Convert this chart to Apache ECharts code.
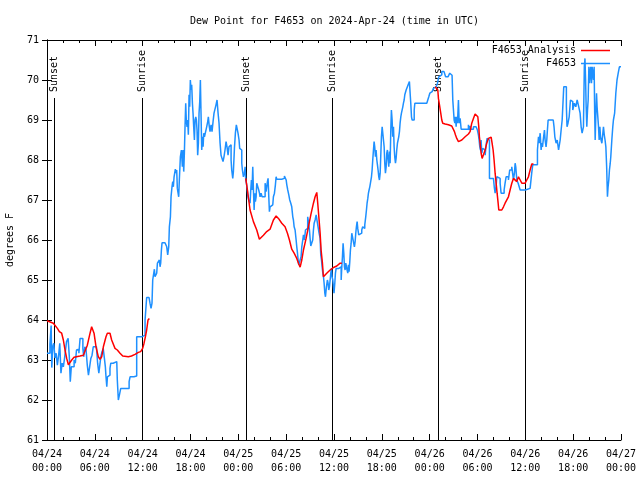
<!DOCTYPE html>
<html>
<head>
<meta charset="utf-8">
<script src="https://cdn.jsdelivr.net/npm/echarts@6/dist/echarts.min.js"></script>
<style>html,body{margin:0;padding:0;background:#fff}#c{width:640px;height:480px}</style>
</head>
<body>
<div id="c"></div>
<script>
// ---- data (hours since 2024-04-24 00:00 UTC, dew point in degrees F) ----
const dayLabels = ['04/24', '04/25', '04/26', '04/27'];
const sunHours = [0.88, 11.88, 24.97, 35.8, 49.06, 59.9];
const sunLabels = ['Sunset', 'Sunrise', 'Sunset', 'Sunrise', 'Sunset', 'Sunrise'];

const blueData = [
[0.0,63.17],[0.37,63.39],[0.52,63.86],[0.6,62.81],[0.72,63.33],[0.85,63.42],[1.0,63.05],[1.15,63.17],[1.3,62.87],[1.45,63.1],
[1.6,63.42],[1.75,62.67],[1.9,62.92],[2.05,62.83],[2.2,63.04],[2.45,63.46],[2.65,63.54],[2.8,63.08],[2.92,62.46],[3.05,62.83],
[3.25,62.83],[3.4,63.0],[3.55,62.92],[3.7,63.25],[3.85,63.27],[4.0,63.17],[4.15,63.54],[4.4,63.54],[4.5,63.29],[4.6,63.08],
[4.75,63.33],[4.9,63.25],[5.05,62.88],[5.2,62.62],[5.35,62.83],[5.5,63.04],[5.65,63.12],[5.8,63.33],[6.2,63.33],[6.35,62.92],
[6.5,62.67],[6.6,62.83],[6.75,63.08],[6.9,63.2],[7.05,63.29],[7.2,63.04],[7.32,62.83],[7.4,62.58],[7.5,62.33],[7.58,62.58],
[7.75,62.62],[7.9,62.79],[8.0,62.92],[8.15,62.92],[8.3,62.96],[8.75,62.96],[8.82,62.5],[8.95,62.0],[9.08,62.12],[9.25,62.29],
[9.6,62.29],[10.0,62.27],[10.2,62.29],[10.3,62.46],[10.42,62.58],[10.9,62.6],[11.25,63.58],[11.9,63.6],[12.1,63.62],[12.3,64.0],
[12.5,64.56],[12.8,64.56],[12.92,64.42],[13.05,64.29],[13.17,64.42],[13.26,65.0],[13.4,65.0],[13.47,65.27],[13.55,65.08],[13.67,65.04],
[13.76,65.17],[13.85,65.42],[14.1,65.5],[14.18,65.33],[14.26,65.42],[14.35,65.75],[14.43,65.93],[14.8,65.93],[15.02,65.83],[15.14,65.63],
[15.27,65.83],[15.35,66.33],[15.48,66.58],[15.56,67.08],[15.68,67.33],[15.77,67.46],[15.85,67.33],[15.94,67.58],[16.1,67.77],[16.2,67.67],
[16.27,67.75],[16.35,67.29],[16.52,67.08],[16.6,67.5],[16.73,68.08],[16.86,68.25],[16.98,67.83],[17.07,68.25],[17.15,67.71],[17.23,68.17],
[17.32,68.88],[17.4,69.42],[17.48,68.96],[17.57,68.83],[17.65,69.0],[17.73,68.63],[17.82,69.63],[17.9,69.33],[17.98,70.0],[18.07,69.75],
[18.15,69.88],[18.24,69.42],[18.32,69.17],[18.4,68.83],[18.49,68.5],[18.57,69.0],[18.66,69.08],[18.74,69.0],[18.82,68.75],[18.9,68.12],
[18.99,68.42],[19.07,69.17],[19.16,69.46],[19.24,70.0],[19.32,69.17],[19.41,68.25],[19.49,68.58],[19.58,68.33],[19.66,68.67],[19.75,68.58],
[19.95,68.63],[20.03,68.83],[20.16,68.96],[20.24,69.08],[20.33,68.88],[20.45,68.71],[20.58,68.88],[20.7,68.71],[20.83,68.96],[20.95,69.17],
[21.08,69.21],[21.2,69.38],[21.33,69.5],[21.46,69.17],[21.58,68.92],[21.71,68.42],[21.83,68.12],[21.96,68.08],[22.08,67.96],[22.2,68.08],
[22.33,68.25],[22.46,68.46],[22.58,68.33],[22.71,68.12],[22.83,68.33],[22.96,68.38],[23.09,68.0],[23.17,67.75],[23.3,67.54],[23.38,67.71],
[23.51,68.29],[23.63,68.67],[23.75,68.88],[23.84,68.79],[23.96,68.67],[24.09,68.5],[24.17,68.29],[24.3,68.25],[24.43,67.92],[24.51,67.75],
[24.64,67.58],[24.76,67.67],[24.85,67.83],[24.93,67.5],[25.01,67.42],[25.1,67.29],[25.2,67.08],[25.3,67.0],[25.47,66.92],[25.56,67.25],
[25.64,67.5],[25.72,67.25],[25.81,67.83],[25.89,67.29],[25.98,66.75],[26.06,67.17],[26.14,66.96],[26.23,67.08],[26.31,67.42],[26.43,67.42],
[26.56,67.25],[26.65,67.17],[26.73,67.08],[26.85,67.17],[26.98,67.08],[27.23,67.08],[27.36,67.42],[27.48,67.21],[27.65,67.46],[27.73,67.54],
[27.82,67.08],[27.9,66.71],[27.98,66.83],[28.07,66.79],[28.2,66.88],[28.32,66.83],[28.4,67.08],[28.53,67.17],[28.65,67.38],[28.74,67.58],
[28.82,67.52],[29.45,67.52],[29.66,67.54],[29.78,67.6],[29.91,67.6],[30.0,67.5],[30.08,67.38],[30.2,67.25],[30.33,67.13],[30.45,67.0],
[30.58,66.92],[30.7,66.83],[30.83,66.58],[30.91,66.5],[31.0,66.33],[31.12,66.25],[31.25,66.0],[31.33,65.83],[31.42,65.67],[31.5,65.5],
[31.58,65.38],[31.66,65.33],[31.75,65.5],[31.87,65.58],[31.96,65.83],[32.08,66.0],[32.17,66.13],[32.3,66.0],[32.42,66.25],[32.58,66.29],
[32.7,66.58],[32.79,66.46],[32.92,66.25],[33.0,66.04],[33.09,65.85],[33.25,65.85],[33.33,66.0],[33.42,66.25],[33.51,66.42],[33.63,66.5],
[33.76,66.63],[33.88,66.6],[34.0,66.33],[34.13,66.17],[34.26,66.04],[34.34,65.63],[34.43,65.5],[34.51,65.33],[34.6,65.17],[34.68,65.08],
[34.76,64.92],[34.85,64.67],[34.93,64.58],[35.05,64.83],[35.17,65.0],[35.26,64.92],[35.34,64.75],[35.43,64.83],[35.6,65.17],[35.68,65.29],
[35.76,65.08],[35.85,65.0],[35.93,64.83],[36.0,64.67],[36.1,64.92],[36.18,65.17],[36.27,65.29],[36.6,65.33],[36.77,65.33],[36.9,65.0],
[36.98,65.33],[37.06,65.58],[37.14,65.92],[37.23,65.67],[37.31,65.33],[37.39,65.25],[37.48,65.42],[37.56,65.46],[37.64,65.25],[37.73,65.17],
[37.81,65.38],[37.89,65.21],[37.98,65.46],[38.06,65.75],[38.15,65.92],[38.23,66.17],[38.48,66.17],[38.56,65.83],[38.65,65.96],[38.73,66.17],
[38.81,66.33],[38.9,66.46],[38.98,66.29],[39.1,66.13],[39.23,66.1],[39.35,66.17],[39.48,66.25],[39.6,66.33],[39.73,66.29],[39.86,66.38],
[39.98,66.58],[40.07,66.75],[40.15,66.92],[40.24,67.04],[40.32,67.17],[40.4,67.25],[40.49,67.33],[40.57,67.42],[40.7,67.58],[40.78,67.75],
[40.86,68.0],[40.95,68.25],[41.03,68.46],[41.11,68.33],[41.2,68.08],[41.28,68.25],[41.37,68.0],[41.45,67.88],[41.53,67.75],[41.62,67.58],
[41.7,67.5],[41.79,67.67],[41.87,68.13],[41.95,68.58],[42.04,68.83],[42.2,68.83],[42.29,68.33],[42.37,67.92],[42.45,67.67],[42.54,67.83],
[42.62,68.17],[42.7,68.25],[42.79,68.0],[42.87,67.83],[42.96,68.21],[43.04,67.92],[43.12,68.71],[43.2,69.25],[43.29,69.0],[43.37,68.58],
[43.46,68.83],[43.54,68.33],[43.62,68.08],[43.71,67.92],[43.79,68.04],[43.87,68.25],[43.96,68.42],[44.04,68.5],[44.12,68.58],[44.21,68.71],
[44.29,68.92],[44.38,69.08],[44.46,69.17],[44.54,69.13],[44.63,69.33],[44.71,69.42],[44.8,69.5],[44.88,69.63],[44.96,69.67],[45.05,69.75],
[45.13,69.79],[45.21,69.75],[45.3,69.88],[45.46,69.96],[45.55,69.67],[45.63,69.42],[45.72,69.08],[45.8,69.0],[45.97,69.0],[46.06,69.25],
[46.14,69.42],[47.64,69.42],[47.76,69.46],[47.89,69.58],[48.02,69.67],[48.18,69.71],[48.31,69.75],[48.47,69.79],[48.64,69.83],[48.81,69.88],
[48.89,69.83],[48.98,69.92],[49.14,70.08],[49.31,70.13],[49.52,70.21],[49.8,70.17],[50.0,70.08],[50.3,70.08],[50.52,70.17],[50.7,70.12],
[50.81,70.17],[50.9,69.5],[50.99,69.46],[51.07,69.0],[51.16,68.92],[51.24,69.08],[51.32,68.83],[51.4,69.08],[51.49,68.92],[51.61,69.5],
[51.7,68.92],[51.82,69.04],[51.95,68.77],[52.5,68.77],[52.86,68.88],[52.99,68.75],[53.07,68.85],[53.16,68.77],[53.49,68.83],[53.82,68.83],
[53.99,68.75],[54.12,68.62],[54.2,68.5],[54.29,68.33],[54.37,68.25],[54.45,68.5],[54.54,68.17],[54.66,68.29],[54.83,68.25],[54.96,68.12],
[55.08,68.38],[55.2,68.54],[55.33,68.5],[55.5,67.54],[56.0,67.54],[56.1,67.33],[56.21,67.17],[56.33,67.33],[56.42,67.58],[56.67,67.54],
[56.84,67.42],[56.96,67.17],[57.17,67.17],[57.34,67.25],[57.46,67.42],[57.59,67.58],[57.88,67.5],[58.04,67.75],[58.3,67.83],[58.51,67.5],
[58.63,67.67],[58.72,67.92],[58.8,67.83],[58.93,67.5],[59.1,67.42],[59.35,67.25],[59.6,67.25],[60.0,67.29],[60.6,67.29],[60.8,67.67],
[60.93,67.88],[61.23,67.88],[61.52,68.25],[61.65,68.58],[61.73,68.42],[61.86,68.67],[61.98,68.25],[62.07,68.42],[62.15,68.33],[62.27,68.54],
[62.4,68.75],[62.48,68.5],[62.6,68.33],[62.69,68.5],[62.77,68.75],[62.86,69.0],[63.5,69.0],[63.6,68.83],[63.7,68.58],[63.86,68.42],
[64.0,68.5],[64.17,68.25],[64.37,68.5],[64.49,68.75],[64.62,69.0],[64.74,69.5],[64.82,69.83],[65.0,69.83],[65.15,69.33],[65.23,68.83],
[65.35,68.92],[65.5,69.08],[65.66,69.5],[65.83,69.46],[65.95,69.25],[66.15,69.42],[66.33,69.33],[66.5,69.5],[66.7,69.33],[66.87,69.17],
[67.0,68.83],[67.12,68.67],[67.29,68.83],[67.4,70.33],[67.48,70.54],[67.56,70.0],[67.63,69.33],[67.71,68.83],[67.8,69.25],[67.88,69.5],
[67.97,70.33],[68.05,69.92],[68.13,70.17],[68.2,70.33],[68.3,69.92],[68.38,70.33],[68.5,70.08],[68.55,70.0],[68.63,70.33],[68.7,69.17],
[68.76,68.5],[68.85,69.17],[68.93,69.67],[69.0,69.33],[69.09,69.08],[69.18,68.83],[69.26,68.5],[69.35,68.83],[69.43,68.58],[69.5,68.5],
[69.6,68.42],[69.68,68.58],[69.8,68.83],[69.9,68.63],[70.0,68.5],[70.1,68.33],[70.2,67.83],[70.3,67.08],[70.38,67.33],[70.47,67.5],
[70.55,67.75],[70.65,67.92],[70.72,68.08],[70.85,68.5],[70.97,68.83],[71.05,69.0],[71.2,69.17],[71.35,69.67],[71.5,70.0],[71.65,70.17],
[71.8,70.33],[72.0,70.33]
];

const redNight1 = [
[0,63.98],[0.8,63.92],[1.3,63.79],[1.55,63.71],[1.84,63.67],[2.05,63.5],[2.26,63.25],[2.47,63.04],[2.68,62.88],[2.89,62.88],
[3.1,63.0],[3.39,63.07],[3.64,63.1],[4.14,63.1],[4.56,63.12],[4.77,63.17],[5.06,63.37],[5.4,63.67],[5.6,63.83],[5.73,63.88],
[5.9,63.67],[6.15,63.33],[6.44,63.08],[6.65,63.02],[6.86,63.08],[7.07,63.33],[7.4,63.58],[7.57,63.67],[7.74,63.71],[7.9,63.67],
[8.11,63.5],[8.53,63.29],[8.82,63.25],[9.16,63.17],[9.5,63.1],[9.66,63.08],[10.2,63.08],[10.6,63.1],[11.04,63.14],[11.46,63.19],
[11.75,63.21],[12.0,63.29],[12.17,63.42],[12.34,63.58],[12.5,63.75],[12.67,64.0],[12.84,64.04]
];
const redNight2 = [
[24.93,67.54],[25.14,67.25],[25.47,66.75],[25.89,66.46],[26.31,66.25],[26.64,66.02],[27.15,66.12],[27.56,66.21],[27.98,66.27],[28.4,66.5],
[28.74,66.6],[29.03,66.54],[29.45,66.42],[29.86,66.33],[30.16,66.17],[30.41,66.0],[30.7,65.77],[31.0,65.67],[31.33,65.54],[31.54,65.42],
[31.75,65.32],[31.96,65.5],[32.17,65.75],[32.5,66.04],[32.79,66.33],[33.09,66.63],[33.42,66.92],[33.63,67.08],[33.84,67.19],[33.96,66.92],
[34.13,66.5],[34.26,66.17],[34.38,65.75],[34.55,65.42],[34.67,65.08],[34.88,65.08],[35.09,65.17],[35.51,65.25],[35.72,65.29],[36.01,65.32],
[36.35,65.35],[36.77,65.42],[36.98,65.42]
];
const redNight3 = [
[48.68,69.83],[48.89,69.88],[49.02,69.75],[49.1,69.54],[49.23,69.38],[49.39,69.17],[49.52,69.0],[49.64,68.92],[49.94,68.9],[50.35,68.88],
[50.77,68.85],[50.98,68.82],[51.11,68.71],[51.23,68.63],[51.4,68.54],[51.61,68.46],[51.82,68.42],[52.03,68.5],[52.24,68.54],[52.45,68.58],
[52.66,68.63],[52.86,68.65],[53.07,68.71],[53.28,68.92],[53.49,69.04],[53.7,69.15],[53.91,69.15],[54.04,69.08],[54.16,68.83],[54.24,68.58],
[54.33,68.42],[54.45,68.17],[54.58,68.04],[54.75,68.04],[54.96,68.25],[55.16,68.42],[55.37,68.54],[55.58,68.58],[55.71,68.57],[55.83,68.42],
[55.96,68.25],[56.08,68.0],[56.21,67.67],[56.34,67.42],[56.46,67.17],[56.59,66.92],[56.67,66.75],[56.84,66.71],[57.05,66.75],[57.26,66.83],
[57.46,66.92],[57.67,66.96],[57.88,67.08],[58.09,67.25],[58.3,67.42],[58.51,67.54],[58.72,67.5],[58.93,67.46],[59.14,67.58],[59.35,67.5],
[59.56,67.42],[59.77,67.38],[59.97,67.42],[60.18,67.5],[60.39,67.58],[60.6,67.75],[60.81,67.9],[61.02,67.9]
];

// ---- build ----
const FONT = 'DejaVu Sans Mono';
const redData = [].concat(redNight1, [[13, null]], redNight2, [[37.5, null]], redNight3);

function tickLabel(v) {
  const d = Math.floor(v / 24 + 1e-6);
  const hh = Math.round(v - d * 24);
  return dayLabels[d] + '\n' + String(hh).padStart(2, '0') + ':00';
}

const xCommon = {
  type: 'value', min: 0, max: 72, interval: 6,
  axisLine: { show: true, lineStyle: { color: '#000', width: 1 } },
  axisTick: { show: true, inside: true, length: 6, lineStyle: { color: '#000' } },
  minorTick: { show: true, splitNumber: 3, length: 3, lineStyle: { color: '#000' } },
  splitLine: { show: false }
};
const yCommon = {
  type: 'value', min: 61, max: 71, interval: 1,
  axisLine: { show: true, lineStyle: { color: '#000', width: 1 } },
  axisTick: { show: true, inside: true, length: 5, lineStyle: { color: '#000' } },
  splitLine: { show: false }
};

const chart = echarts.init(document.getElementById('c'), null, { renderer: 'canvas' });
chart.setOption({
  animation: false,
  backgroundColor: '#fff',
  title: {
    text: 'Dew Point for F4653 on 2024-Apr-24 (time in UTC)',
    left: 185, top: 11,
    textStyle: { fontFamily: FONT, fontSize: 10, fontWeight: 'normal', color: '#000' }
  },
  grid: { left: 47, right: 19, top: 40, bottom: 40, containLabel: false, outerBoundsMode: 'none' },
  legend: {
    data: ['F4653 Analysis', 'F4653'],
    orient: 'vertical', right: 30, top: 45, align: 'right',
    icon: 'rect', itemWidth: 29, itemHeight: 1.5, itemGap: 2, padding: 0,
    textStyle: { fontFamily: FONT, fontSize: 10, color: '#000', lineHeight: 11 }
  },
  xAxis: [
    Object.assign({}, xCommon, {
      position: 'bottom',
      axisLabel: { show: true, margin: 7, fontFamily: FONT, fontSize: 10, color: '#000', lineHeight: 14, formatter: tickLabel }
    }),
    Object.assign({}, xCommon, { position: 'top', axisLabel: { show: false } })
  ],
  yAxis: [
    Object.assign({}, yCommon, {
      position: 'left',
      name: 'degrees F', nameLocation: 'middle', nameGap: 32, nameRotate: 90,
      nameTextStyle: { fontFamily: FONT, fontSize: 10, color: '#000' },
      axisLabel: { show: true, margin: 8, fontFamily: FONT, fontSize: 10, color: '#000' }
    }),
    Object.assign({}, yCommon, { position: 'right', axisLabel: { show: false } })
  ],
  series: [
    {
      type: 'custom', name: 'sun', silent: true, z: 1,
      data: sunHours.map(h => [h, 61]),
      renderItem: function (params, api) {
        const h = api.value(0);
        const bottom = api.coord([h, 61]);
        const top = api.coord([h, 71]);
        const x = Math.round(bottom[0]) + 0.5;
        return {
          type: 'group',
          children: [
            { type: 'line', shape: { x1: x, y1: top[1] + 58, x2: x, y2: bottom[1] },
              style: { stroke: '#000', lineWidth: 1 } },
            { type: 'text', x: x, y: top[1] + 52, rotation: Math.PI / 2,
              style: { text: sunLabels[params.dataIndex], fill: '#000',
                       font: '10px "DejaVu Sans Mono"', align: 'left', verticalAlign: 'middle' } }
          ]
        };
      }
    },
    {
      type: 'line', name: 'F4653', data: blueData, step: 'end', showSymbol: false, symbol: 'none',
      lineStyle: { color: '#1e90ff', width: 1.5 }, itemStyle: { color: '#1e90ff' }, z: 2
    },
    {
      type: 'line', name: 'F4653 Analysis', data: redData, showSymbol: false, symbol: 'none',
      connectNulls: false,
      lineStyle: { color: '#ff0000', width: 1.5 }, itemStyle: { color: '#ff0000' }, z: 3
    }
  ]
});
</script>
</body>
</html>
